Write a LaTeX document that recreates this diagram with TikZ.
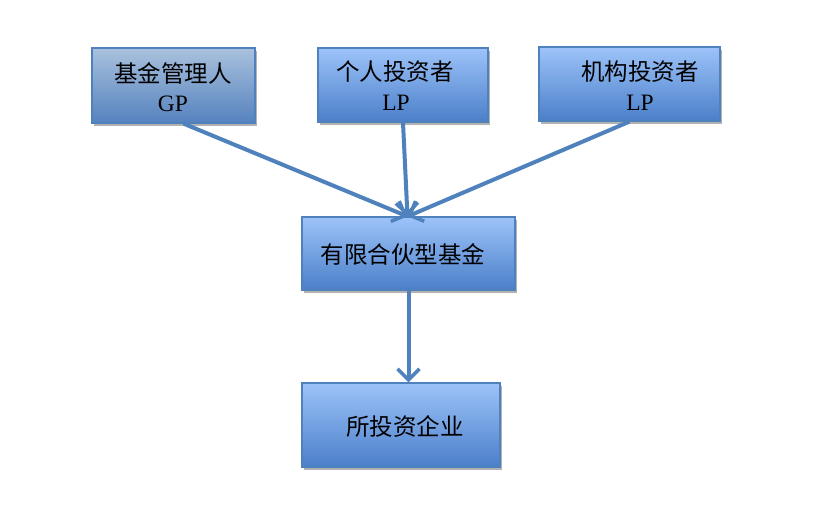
\documentclass[tikz,border=0pt]{standalone}
\usepackage{fontspec}
\setmainfont{Liberation Serif}
\newfontfamily\cjk{Noto Sans CJK SC}
\usetikzlibrary{arrows.meta,shadows,calc}
\definecolor{edgeblue}{HTML}{4F81BD}
\definecolor{boxtop}{HTML}{9DC3F9}
\definecolor{boxbot}{HTML}{4A7FC9}
\definecolor{gptop}{HTML}{A9C1DD}
\definecolor{gpbot}{HTML}{5582BE}
\definecolor{lineblue}{HTML}{4F81BD}
\tikzset{
  box/.style={draw=edgeblue, line width=1.2pt, top color=boxtop, bottom color=boxbot,
    drop shadow={shadow xshift=2pt, shadow yshift=-3pt, fill=black!30, opacity=1}},
  gpbox/.style={box, top color=gptop, bottom color=gpbot},
  lbl/.style={font=\fontsize{23.5}{26}\selectfont, inner sep=0pt},
  conn/.style={draw=lineblue, line width=4pt, -{Straight Barb[length=11pt,width=22pt,line width=3.5pt]}}
}
\begin{document}
\begin{tikzpicture}[x=1pt,y=-1pt]
\useasboundingbox (0,0) rectangle (829,515);
\node[gpbox, minimum width=163pt, minimum height=75pt] (gp) at (173.5,85.5) {};
\node[box, minimum width=170pt, minimum height=74pt] (lpa) at (403,85) {};
\node[box, minimum width=181pt, minimum height=74pt] (lpb) at (629.5,84) {};
\node[box, minimum width=213pt, minimum height=73pt] (fund) at (408.5,253.5) {};
\node[box, minimum width=198pt, minimum height=84pt] (comp) at (401,425) {};
\node[lbl] (gpt1) at (173,73) {\cjk 基金管理人};
\node[lbl] (gpt2) at (173,104) {GP};
\node[lbl] (lpat1) at (395,72) {\cjk 个人投资者};
\node[lbl] (lpat2) at (396,103) {LP};
\node[lbl] (lpbt1) at (640,72) {\cjk 机构投资者};
\node[lbl] (lpbt2) at (640,103) {LP};
\node[lbl] (fundt) at (403,254) {\cjk 有限合伙型基金};
\node[lbl] (compt) at (405,426) {\cjk 所投资企业};
\coordinate (hub) at ($(fund.north)+(-1,0)$);
\draw[conn] ($(gp.south)+(10,0)$) -- (hub);
\draw[conn] (lpa.south) -- (hub);
\draw[conn] (lpb.south) -- (hub);
\draw[conn] (fund.south) -- (fund.south |- comp.north);
\end{tikzpicture}
\end{document}
